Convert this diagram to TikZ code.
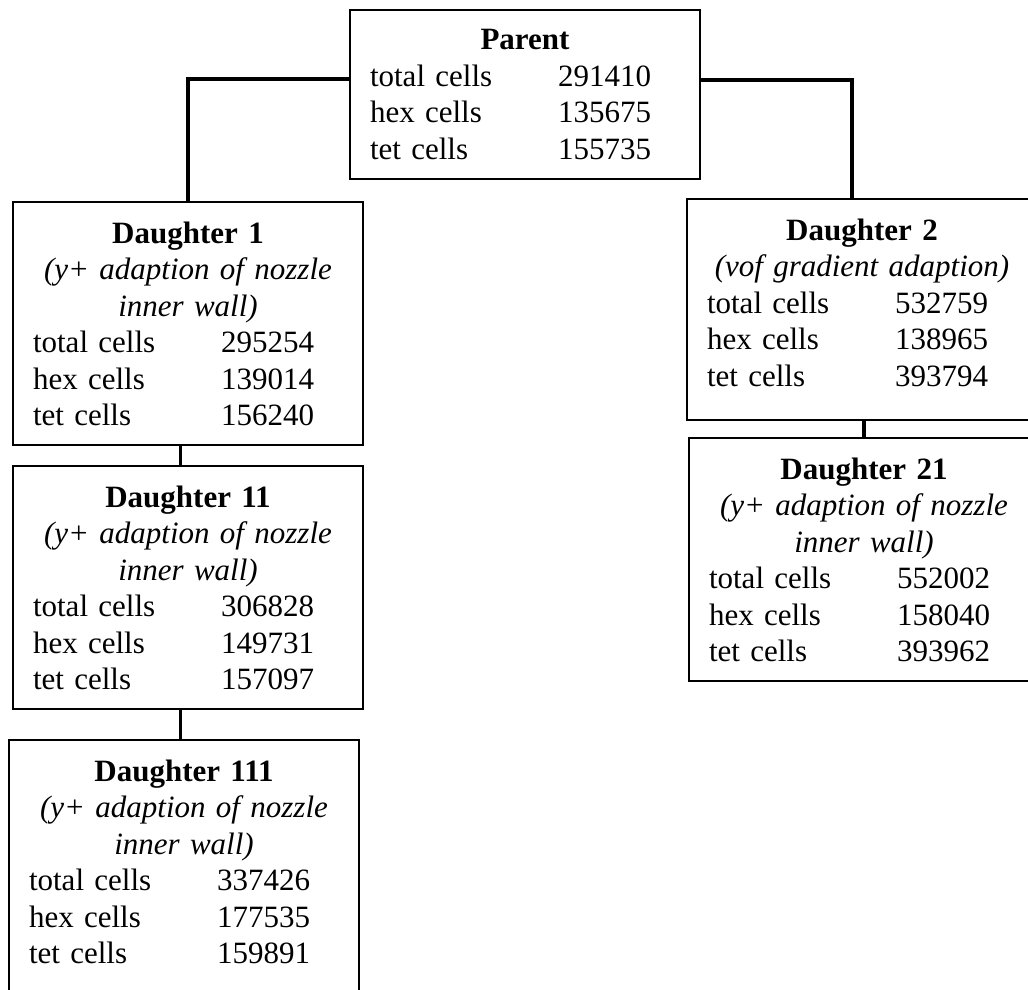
\documentclass[tikz,border=0pt]{standalone}
\usepackage{fontspec}
\setmainfont{Liberation Serif}
\usepackage{tikz}

\newcommand{\cellrow}[2]{\makebox[\linewidth][l]{\makebox[94pt][l]{#1}#2}}
\newcommand{\spare}{\rule[-7.25pt]{0pt}{0pt}}

\begin{document}
\begin{tikzpicture}[x=0.5pt, y=-0.5pt,
    every node/.style = {draw, rectangle, line width=1pt, anchor=north west,
      text width=155pt, inner xsep=10pt, inner ysep=9.75pt, align=center,
      font=\fontsize{15.5}{18.25}\selectfont},
    link/.style = {line width=1.7pt}
    ]
    \useasboundingbox (0,0) rectangle (1028,990);
    \node (parent) at (349,9) {\textbf{Parent}\\ \cellrow{total cells}{291410}\\ \cellrow{hex cells}{135675}\\ \cellrow{tet cells}{155735}};
    \node (d1) at (12,201) {\textbf{Daughter 1}\\ \textit{(y+ adaption of nozzle}\\ \textit{inner wall)}\\ \cellrow{total cells}{295254}\\ \cellrow{hex cells}{139014}\\ \cellrow{tet cells}{156240}};
    \node (d11) at (12,465) {\textbf{Daughter 11}\\ \textit{(y+ adaption of nozzle}\\ \textit{inner wall)}\\ \cellrow{total cells}{306828}\\ \cellrow{hex cells}{149731}\\ \cellrow{tet cells}{157097}};
    \node (d111) at (8,739) {\textbf{Daughter 111}\\ \textit{(y+ adaption of nozzle}\\ \textit{inner wall)}\\ \cellrow{total cells}{337426}\\ \cellrow{hex cells}{177535}\\ \cellrow{tet cells}{159891}\spare};
    \node (d2) at (686,198) {\textbf{Daughter 2}\\ \textit{(vof gradient adaption)}\\ \cellrow{total cells}{532759}\\ \cellrow{hex cells}{138965}\\ \cellrow{tet cells}{393794}\spare};
    \node (d21) at (688,437) {\textbf{Daughter 21}\\ \textit{(y+ adaption of nozzle}\\ \textit{inner wall)}\\ \cellrow{total cells}{552002}\\ \cellrow{hex cells}{158040}\\ \cellrow{tet cells}{393962}};

    \draw[link] ([yshift=-35pt]parent.north west) -| (d1.north);
    \draw[link] ([yshift=-35.5pt]parent.north east) -| ([xshift=-5pt]d2.north);
    \draw[link] ([xshift=-3.75pt]d1.south) -- ([xshift=-3.75pt]d1.south |- d11.north);
    \draw[link] ([xshift=-3.75pt]d11.south) -- ([xshift=-3.75pt]d11.south |- d111.north);
    \draw[link] (d21.north |- d2.south) -- (d21.north);
\end{tikzpicture}
\end{document}
